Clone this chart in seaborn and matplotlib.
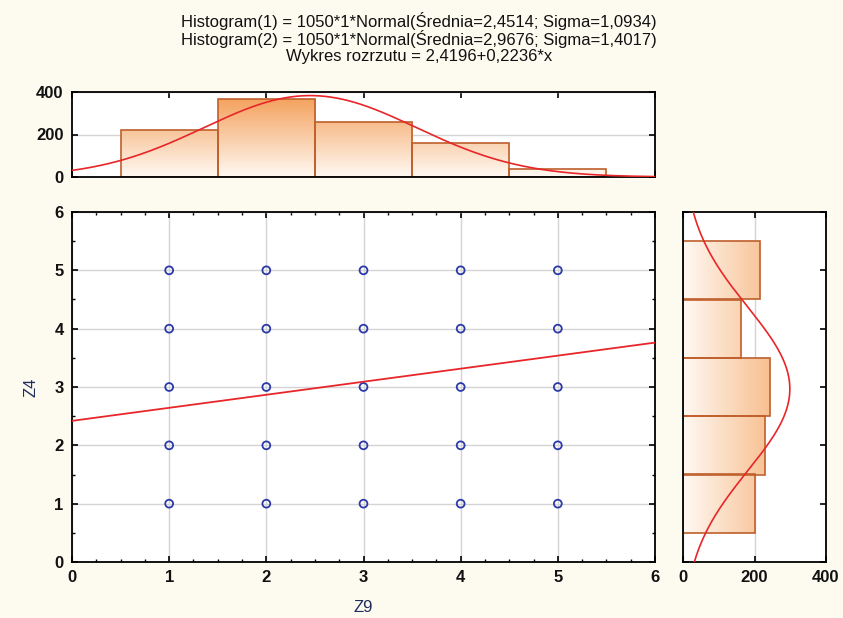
import numpy as np
import pandas as pd
import matplotlib
matplotlib.use("Agg")
import matplotlib.pyplot as plt
from matplotlib.colors import LinearSegmentedColormap
from matplotlib.ticker import MultipleLocator, FixedLocator
import seaborn as sns

# ---------------- data ----------------
z9_bin_centers = [1, 2, 3, 4, 5]
z9_counts = [222, 368, 260, 160, 40]
z4_bin_centers = [1, 2, 3, 4, 5]
z4_counts = [202, 228, 243, 162, 215]

scatter_z9 = [1, 1, 1, 1, 1, 2, 2, 2, 2, 2, 3, 3, 3, 3, 3, 4, 4, 4, 4, 4, 5, 5, 5, 5, 5]
scatter_z4 = [1, 2, 3, 4, 5, 1, 2, 3, 4, 5, 1, 2, 3, 4, 5, 1, 2, 3, 4, 5, 1, 2, 3, 4, 5]

n_total = 1050
bin_width = 1
z9_mean, z9_sigma = 2.4514, 1.0934
z4_mean, z4_sigma = 2.9676, 1.4017
reg_intercept, reg_slope = 2.4196, 0.2236

title_lines = [
    "Histogram(1) = 1050*1*Normal(Średnia=2,4514; Sigma=1,0934)",
    "Histogram(2) = 1050*1*Normal(Średnia=2,9676; Sigma=1,4017)",
    "Wykres rozrzutu = 2,4196+0,2236*x",
]
x_label = "Z9"
y_label = "Z4"
count_ticks = [0, 200, 400]
value_ticks = [0, 1, 2, 3, 4, 5, 6]

# ---------------- style ----------------
sns.set_theme(style="white")
plt.rcParams["font.family"] = ["Liberation Sans", "DejaVu Sans"]

BG = "#fdfaf0"
EDGE = "#bf5f2c"
RED = "#e8262a"
BLUE = "#2b3aa8"
GRID = "#d4d4d4"
LABEL_COLOR = "#1f2d5c"
cmap = LinearSegmentedColormap.from_list("grad", ["#fff9f3", "#f39a50"])


def normal_curve(t, mean, sigma):
    return n_total * bin_width * np.exp(-0.5 * ((t - mean) / sigma) ** 2) / (sigma * np.sqrt(2 * np.pi))


fig = plt.figure(figsize=(8.43, 6.18), dpi=100, facecolor=BG)
W, H = 843, 618


def rect(x0, x1, ytop, ybot):
    return [x0 / W, 1 - ybot / H, (x1 - x0) / W, (ybot - ytop) / H]


ax_main = fig.add_axes(rect(72, 655, 212, 562))
ax_top = fig.add_axes(rect(72, 655, 92, 177))
ax_right = fig.add_axes(rect(683, 826, 212, 562))

tick_font = dict(fontsize=12, fontweight="bold", color="#111111")

for ax in (ax_main, ax_top, ax_right):
    ax.set_facecolor("white")
    ax.set_axisbelow(True)
    for s in ax.spines.values():
        s.set_color("black")
        s.set_linewidth(1.3)
    ax.tick_params(which="both", direction="in", top=True, right=True,
                   bottom=True, left=True, color="black")
    ax.tick_params(which="major", length=4, width=1.2, pad=6)
    ax.tick_params(which="minor", length=2.5, width=1.0)

# ---------------- main scatter ----------------
sns.scatterplot(x=scatter_z9, y=scatter_z4, ax=ax_main, marker="o",
                facecolor="none", edgecolor=BLUE, linewidth=1.3, s=32, zorder=3)
reg_x = np.array([0, 6])
sns.lineplot(x=reg_x, y=reg_intercept + reg_slope * reg_x, ax=ax_main,
             color=RED, linewidth=1.3, zorder=4)
ax_main.set_xlim(0, 6)
ax_main.set_ylim(0, 6)
ax_main.xaxis.set_major_locator(FixedLocator(value_ticks))
ax_main.yaxis.set_major_locator(FixedLocator(value_ticks))
ax_main.xaxis.set_minor_locator(MultipleLocator(0.25))
ax_main.yaxis.set_minor_locator(MultipleLocator(0.5))
ax_main.set_xticklabels([str(v) for v in value_ticks], **tick_font)
ax_main.set_yticklabels([str(v) for v in value_ticks], **tick_font)
ax_main.grid(True, which="major", color=GRID, linewidth=1.0)
ax_main.set_xlabel(x_label, fontsize=12, color=LABEL_COLOR)
ax_main.set_ylabel(y_label, fontsize=12, color=LABEL_COLOR)
ax_main.xaxis.set_label_coords(0.5, -0.108)
ax_main.yaxis.set_label_coords(-0.058, 0.5)


def add_gradient(ax, extent, horizontal):
    if horizontal:
        grad = np.linspace(0, 1, 256).reshape(1, -1)
    else:
        grad = np.linspace(0, 1, 256).reshape(-1, 1)
    for p in list(ax.patches):
        p.set_facecolor("none")
        p.set_zorder(2)
        im = ax.imshow(grad, extent=extent, origin="lower", cmap=cmap,
                       aspect="auto", zorder=1.5, interpolation="bilinear")
        im.set_clip_path(p)


# ---------------- top histogram (Z9) ----------------
sns.histplot(x=z9_bin_centers, weights=z9_counts, binwidth=bin_width,
             binrange=(0.5, 5.5), ax=ax_top, edgecolor=EDGE, linewidth=1.2,
             alpha=1)
add_gradient(ax_top, [0, 6, 0, 400], horizontal=False)
t = np.linspace(0, 6, 300)
sns.lineplot(x=t, y=normal_curve(t, z9_mean, z9_sigma), ax=ax_top,
             color=RED, linewidth=1.2, zorder=4)
ax_top.set_xlim(0, 6)
ax_top.set_ylim(0, 400)
ax_top.xaxis.set_major_locator(FixedLocator(value_ticks))
ax_top.yaxis.set_major_locator(FixedLocator(count_ticks))
ax_top.set_xticklabels([])
ax_top.set_yticklabels([str(v) for v in count_ticks], **tick_font)
ax_top.grid(True, axis="y", color=GRID, linewidth=1.0)
ax_top.set_xlabel("")
ax_top.set_ylabel("")

# ---------------- right histogram (Z4) ----------------
sns.histplot(y=z4_bin_centers, weights=z4_counts, binwidth=bin_width,
             binrange=(0.5, 5.5), ax=ax_right, edgecolor=EDGE, linewidth=1.2,
             alpha=1)
add_gradient(ax_right, [0, 400, 0, 6], horizontal=True)
sns.lineplot(x=normal_curve(t, z4_mean, z4_sigma), y=t, ax=ax_right,
             orient="y", sort=True, color=RED, linewidth=1.2, zorder=4)
ax_right.set_xlim(0, 400)
ax_right.set_ylim(0, 6)
ax_right.xaxis.set_major_locator(FixedLocator(count_ticks))
ax_right.yaxis.set_major_locator(FixedLocator(value_ticks))
ax_right.set_xticklabels([str(v) for v in count_ticks], **tick_font)
ax_right.set_yticklabels([])
ax_right.grid(True, axis="x", color=GRID, linewidth=1.0)
ax_right.set_xlabel("")
ax_right.set_ylabel("")

# ---------------- title ----------------
for i, line in enumerate(title_lines):
    fig.text(0.497, 1 - (21.0 + 18.0 * i) / H, line, ha="center",
             va="center", fontsize=12, color="#111111")

fig.savefig("out.png", dpi=100, facecolor=BG)
